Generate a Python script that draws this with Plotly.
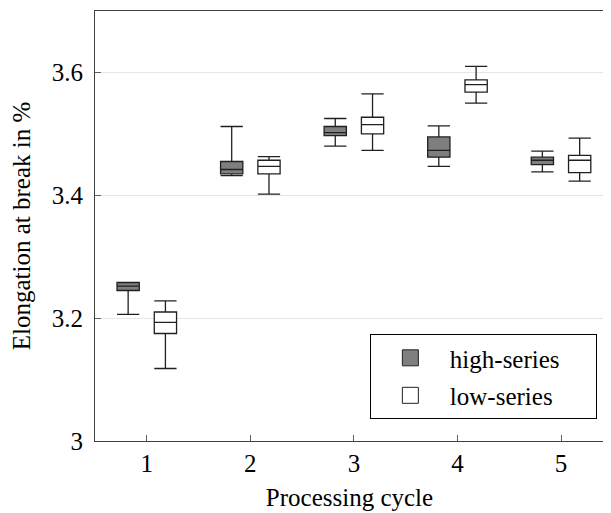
import plotly.graph_objects as go

cycles = [1, 2, 3, 4, 5]

high_low = [3.206, 3.432, 3.480, 3.447, 3.438]
high_q1 = [3.245, 3.435, 3.497, 3.462, 3.450]
high_med = [3.252, 3.442, 3.502, 3.473, 3.457]
high_q3 = [3.258, 3.455, 3.512, 3.495, 3.462]
high_up = [3.258, 3.512, 3.525, 3.513, 3.472]

low_low = [3.118, 3.402, 3.473, 3.550, 3.423]
low_q1 = [3.175, 3.435, 3.500, 3.568, 3.437]
low_med = [3.193, 3.447, 3.515, 3.580, 3.457]
low_q3 = [3.210, 3.457, 3.527, 3.588, 3.465]
low_up = [3.228, 3.463, 3.565, 3.610, 3.493]

y_ticks = [3, 3.2, 3.4, 3.6]
y_tick_labels = ["3", "3.2", "3.4", "3.6"]

offset = 0.18
box_w = 0.215
FONT = "Liberation Serif"
FS = 25
PAD = "\u00a0" * 5

fig = go.Figure()
fig.add_trace(go.Box(
    x=[c - offset for c in cycles], q1=high_q1, median=high_med, q3=high_q3,
    lowerfence=high_low, upperfence=high_up, width=box_w, whiskerwidth=1,
    fillcolor="#7f7f7f", line=dict(color="#202020", width=1.3),
    name="high-series", showlegend=False, boxpoints=False))
fig.add_trace(go.Box(
    x=[c + offset for c in cycles], q1=low_q1, median=low_med, q3=low_q3,
    lowerfence=low_low, upperfence=low_up, width=box_w, whiskerwidth=1,
    fillcolor="white", line=dict(color="#202020", width=1.3),
    name="low-series", showlegend=False, boxpoints=False))

for name, col in [("high-series", "#7f7f7f"), ("low-series", "white")]:
    fig.add_trace(go.Scatter(
        x=[None], y=[None], mode="markers", name=name + PAD, legendgroup=name,
        marker=dict(symbol="square", size=18, color=col,
                    line=dict(color="#202020", width=1))))

fig.update_layout(
    width=603, height=505,
    margin=dict(l=87, r=7, t=3, b=72),
    paper_bgcolor="white", plot_bgcolor="white",
    font=dict(family=FONT, size=FS, color="black"),
    showlegend=True,
    legend=dict(x=0.986, y=0.051, xanchor="right", yanchor="bottom",
                bordercolor="black", borderwidth=1, bgcolor="white",
                font=dict(family=FONT, size=FS), itemwidth=69,
                tracegroupgap=2),
)
fig.update_xaxes(
    range=[0.5, 5.415], tickvals=cycles, ticktext=[str(c) for c in cycles],
    showgrid=False, zeroline=False, showline=True, mirror=True,
    linecolor="#404040", linewidth=1, ticks="inside", ticklen=6,
    tickcolor="#606060",
    title=dict(text="Processing cycle", font=dict(family=FONT, size=FS), standoff=12),
    tickfont=dict(family=FONT, size=FS))
fig.update_yaxes(
    range=[3, 3.7], tickvals=y_ticks, ticktext=y_tick_labels,
    showgrid=True, gridcolor="#e6e6e6", gridwidth=1, zeroline=False,
    showline=True, mirror=True, linecolor="#404040", linewidth=1,
    ticks="inside", ticklen=6, tickcolor="#606060", ticklabelstandoff=6,
    title=dict(text="Elongation at break in %", font=dict(family=FONT, size=FS), standoff=16),
    tickfont=dict(family=FONT, size=FS))

fig.write_html("out.html")
